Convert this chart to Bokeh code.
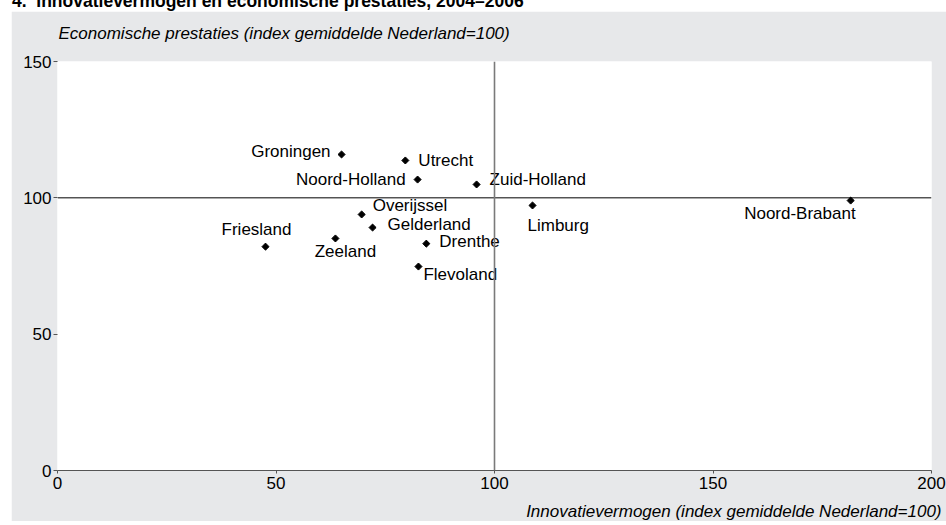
import math
from bokeh.plotting import figure
from bokeh.models import ColumnDataSource, Span, Range1d, FixedTicker, Title, Div
from bokeh.layouts import column
from bokeh.core.properties import value
from bokeh.embed import file_html
from bokeh.resources import INLINE

# ---- data ----
chart_title = "4.&nbsp; Innovatievermogen en economische prestaties, 2004–2006"
y_title = "Economische prestaties (index gemiddelde Nederland=100)"
x_title = "Innovatievermogen (index gemiddelde Nederland=100)"
provinces = ["Groningen", "Utrecht", "Noord-Holland", "Zuid-Holland", "Overijssel",
             "Gelderland", "Friesland", "Zeeland", "Drenthe", "Flevoland",
             "Limburg", "Noord-Brabant"]
innovatie = [65.0, 79.6, 82.4, 95.9, 69.6, 72.1, 47.6, 63.6, 84.4, 82.6, 108.7, 181.5]
economie = [115.9, 113.7, 106.7, 104.9, 93.9, 89.1, 82.1, 85.1, 83.2, 74.8, 97.2, 99.0]
x_ticks = [0, 50, 100, 150, 200]
y_ticks = [0, 50, 100, 150]

# ---- label placement (styling, in screen pixels) ----
lab_dx = [-11, 13, -12, 13, 11, 15, -9, 10, 13, 5, -5, 5]
lab_dy = [-3, 0, 0, -5, -9, -3, -17, 13, -2, 8, 20, 13]
lab_align = ["right", "left", "right", "left", "left", "left", "center", "center",
             "left", "left", "left", "right"]

FONT = "Liberation Sans"
GREY = "#e7e8ea"

src = ColumnDataSource(dict(x=innovatie, y=economie, name=provinces,
                            dx=lab_dx, dy=lab_dy, align=lab_align))

p = figure(width=935, height=510, x_range=Range1d(0, 200), y_range=Range1d(0, 150),
           output_backend="svg", toolbar_location=None,
           min_border_left=46, min_border_right=15, min_border_top=50, min_border_bottom=51,
           background_fill_color="white", border_fill_color=GREY)
p.margin = (2, 0, 0, 11)
p.outline_line_color = None
p.grid.visible = False

p.xaxis.ticker = FixedTicker(ticks=x_ticks)
p.yaxis.ticker = FixedTicker(ticks=y_ticks)
for ax in (p.xaxis[0], p.yaxis[0]):
    ax.major_label_text_font = FONT
    ax.major_label_text_font_size = "17px"
    ax.major_label_text_color = "black"
    ax.minor_tick_line_color = None
    ax.major_tick_in = 0
    ax.major_tick_line_color = "#555555"
p.xaxis.axis_line_color = "#555555"
p.xaxis.major_tick_out = 3
p.xaxis.major_label_standoff = 3
p.yaxis.axis_line_color = None
p.yaxis.major_tick_out = 4
p.yaxis.major_label_standoff = 2

p.add_layout(Span(location=100, dimension="width", line_color="black", line_width=1))
p.add_layout(Span(location=100, dimension="height", line_color="#7a7a7a", line_width=1.6))

p.scatter("x", "y", source=src, marker="square", angle=math.pi / 4, size=5,
          fill_color="black", line_color="black")
p.text("x", "y", text="name", source=src, x_offset="dx", y_offset="dy",
       text_align="align", text_baseline="middle",
       text_font=value(FONT), text_font_size="17px", text_color="black")

# spacer panels (blank) to push the axis titles away from the frame
p.add_layout(Title(text=" ", text_font_size="10px", standoff=6), "above")
p.add_layout(Title(text=y_title, align="left", offset=1, standoff=0,
                   text_font=FONT, text_font_size="17px", text_font_style="italic",
                   text_color="black"), "above")
p.add_layout(Title(text=" ", text_font_size="6px", standoff=0), "below")
p.add_layout(Title(text=x_title, align="right", offset=-10, standoff=0,
                   text_font=FONT, text_font_size="17px", text_font_style="italic",
                   text_color="black"), "below")

head = Div(text=chart_title, width=935, height=20, margin=(-11, 0, 0, 12),
           styles={"font-family": FONT, "font-weight": "bold", "font-size": "17.5px",
                   "color": "black", "white-space": "nowrap"})

layout = column(head, p, spacing=0)
open("out.html", "w").write(file_html(layout, INLINE))
